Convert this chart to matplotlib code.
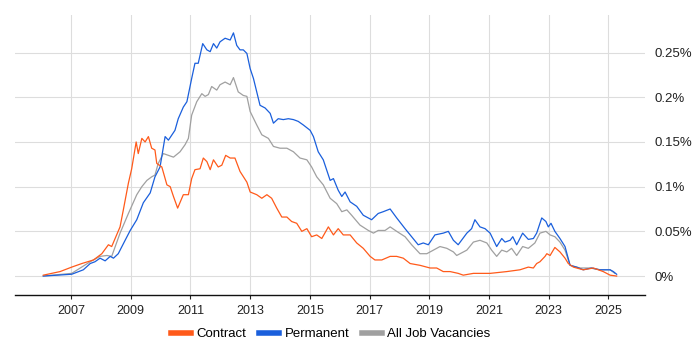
import matplotlib
matplotlib.use("Agg")
import matplotlib.pyplot as plt
from matplotlib.lines import Line2D

# share of UK job ads (%)
contract_years = [2006.07, 2006.63, 2007.02, 2007.36, 2007.75, 2008.03, 2008.25, 2008.36, 2008.64, 2008.75,
                  2008.92, 2009.03, 2009.18, 2009.25, 2009.37, 2009.48, 2009.59, 2009.70, 2009.81, 2009.87,
                  2010.04, 2010.21, 2010.32, 2010.43, 2010.57, 2010.76, 2010.93, 2011.04, 2011.15, 2011.32,
                  2011.43, 2011.55, 2011.66, 2011.77, 2011.93, 2012.05, 2012.18, 2012.33, 2012.49, 2012.66,
                  2012.89, 2013.00, 2013.22, 2013.39, 2013.56, 2013.72, 2013.89, 2014.06, 2014.23, 2014.39,
                  2014.56, 2014.73, 2014.90, 2015.06, 2015.23, 2015.40, 2015.62, 2015.79, 2015.95, 2016.12,
                  2016.35, 2016.57, 2016.79, 2017.02, 2017.18, 2017.41, 2017.69, 2017.91, 2018.13, 2018.36,
                  2018.69, 2019.03, 2019.25, 2019.47, 2019.70, 2019.97, 2020.14, 2020.48, 2021.04, 2021.60,
                  2022.04, 2022.32, 2022.49, 2022.60, 2022.71, 2022.88, 2022.94, 2023.05, 2023.21, 2023.38,
                  2023.55, 2023.66, 2023.83, 2024.16, 2024.50, 2024.83, 2025.06, 2025.28]
contract = [0.001, 0.005, 0.010, 0.014, 0.018, 0.025, 0.035, 0.033, 0.055, 0.074,
            0.104, 0.120, 0.150, 0.137, 0.154, 0.150, 0.156, 0.143, 0.141, 0.126,
            0.122, 0.102, 0.100, 0.089, 0.076, 0.091, 0.091, 0.109, 0.119, 0.120,
            0.132, 0.128, 0.119, 0.130, 0.122, 0.124, 0.135, 0.132, 0.132, 0.117,
            0.105, 0.094, 0.091, 0.087, 0.091, 0.087, 0.076, 0.066, 0.066, 0.061,
            0.059, 0.050, 0.053, 0.044, 0.046, 0.042, 0.055, 0.046, 0.053, 0.046,
            0.046, 0.037, 0.031, 0.022, 0.018, 0.018, 0.022, 0.022, 0.020, 0.014,
            0.012, 0.009, 0.009, 0.005, 0.005, 0.003, 0.001, 0.003, 0.003, 0.005,
            0.007, 0.010, 0.009, 0.014, 0.016, 0.022, 0.025, 0.023, 0.032, 0.027,
            0.020, 0.014, 0.010, 0.007, 0.009, 0.005, 0.001, 0.000]

perm_years = [2006.07, 2007.02, 2007.41, 2007.64, 2007.80, 2007.97, 2008.14, 2008.31, 2008.42, 2008.58,
              2008.81, 2008.98, 2009.20, 2009.42, 2009.65, 2009.81, 2009.98, 2010.15, 2010.26, 2010.48,
              2010.59, 2010.76, 2010.88, 2011.04, 2011.15, 2011.26, 2011.41, 2011.55, 2011.66, 2011.77,
              2011.88, 2011.99, 2012.16, 2012.33, 2012.44, 2012.55, 2012.66, 2012.77, 2012.89, 2013.00,
              2013.11, 2013.22, 2013.33, 2013.50, 2013.67, 2013.78, 2013.94, 2014.11, 2014.28, 2014.45,
              2014.61, 2014.78, 2015.01, 2015.12, 2015.28, 2015.45, 2015.68, 2015.79, 2015.95, 2016.07,
              2016.18, 2016.35, 2016.57, 2016.79, 2017.07, 2017.29, 2017.46, 2017.69, 2017.91, 2018.19,
              2018.41, 2018.63, 2018.80, 2018.97, 2019.19, 2019.47, 2019.64, 2019.81, 2019.97, 2020.26,
              2020.42, 2020.53, 2020.70, 2020.87, 2021.04, 2021.26, 2021.43, 2021.54, 2021.71, 2021.80,
              2021.93, 2022.13, 2022.32, 2022.49, 2022.60, 2022.77, 2022.91, 2022.99, 2023.08, 2023.21,
              2023.38, 2023.55, 2023.72, 2023.94, 2024.16, 2024.44, 2024.72, 2025.06, 2025.17, 2025.28]
permanent = [0.000, 0.002, 0.007, 0.014, 0.016, 0.020, 0.017, 0.022, 0.020, 0.025,
             0.040, 0.051, 0.063, 0.082, 0.093, 0.111, 0.122, 0.156, 0.152, 0.163,
             0.176, 0.189, 0.195, 0.221, 0.238, 0.238, 0.260, 0.253, 0.251, 0.260,
             0.255, 0.262, 0.266, 0.264, 0.272, 0.258, 0.253, 0.253, 0.249, 0.232,
             0.221, 0.206, 0.191, 0.188, 0.182, 0.171, 0.176, 0.175, 0.176, 0.175,
             0.173, 0.169, 0.163, 0.156, 0.139, 0.130, 0.107, 0.109, 0.096, 0.089,
             0.094, 0.083, 0.078, 0.068, 0.063, 0.070, 0.072, 0.075, 0.065, 0.053,
             0.044, 0.035, 0.037, 0.035, 0.046, 0.048, 0.050, 0.040, 0.035, 0.048,
             0.053, 0.063, 0.055, 0.053, 0.048, 0.033, 0.042, 0.038, 0.040, 0.044,
             0.035, 0.048, 0.041, 0.042, 0.048, 0.065, 0.061, 0.055, 0.059, 0.050,
             0.042, 0.033, 0.012, 0.010, 0.007, 0.009, 0.007, 0.007, 0.005, 0.002]

all_years = [2006.06, 2007.02, 2007.64, 2007.97, 2008.20, 2008.36, 2008.64, 2008.92, 2009.20, 2009.37,
             2009.54, 2009.70, 2009.81, 2009.92, 2010.09, 2010.26, 2010.43, 2010.65, 2010.82, 2010.93,
             2011.04, 2011.21, 2011.38, 2011.49, 2011.60, 2011.71, 2011.88, 2011.99, 2012.16, 2012.33,
             2012.44, 2012.60, 2012.77, 2012.89, 2013.00, 2013.22, 2013.39, 2013.61, 2013.78, 2014.00,
             2014.23, 2014.45, 2014.67, 2014.90, 2015.06, 2015.23, 2015.45, 2015.68, 2015.90, 2016.07,
             2016.24, 2016.40, 2016.68, 2016.96, 2017.13, 2017.29, 2017.52, 2017.69, 2017.91, 2018.19,
             2018.41, 2018.69, 2018.92, 2019.14, 2019.36, 2019.59, 2019.81, 2019.92, 2020.26, 2020.48,
             2020.70, 2020.93, 2021.09, 2021.26, 2021.43, 2021.60, 2021.76, 2021.93, 2022.13, 2022.32,
             2022.54, 2022.71, 2022.91, 2023.05, 2023.21, 2023.38, 2023.55, 2023.72, 2024.05, 2024.39,
             2024.72, 2025.06, 2025.22]
all_jobs = [0.000, 0.003, 0.016, 0.022, 0.023, 0.022, 0.048, 0.070, 0.091, 0.100,
            0.107, 0.111, 0.113, 0.126, 0.137, 0.135, 0.133, 0.139, 0.147, 0.154,
            0.180, 0.195, 0.204, 0.201, 0.203, 0.212, 0.208, 0.214, 0.217, 0.214,
            0.222, 0.206, 0.202, 0.201, 0.184, 0.169, 0.158, 0.154, 0.145, 0.143,
            0.143, 0.139, 0.132, 0.130, 0.122, 0.111, 0.102, 0.087, 0.081, 0.072,
            0.074, 0.068, 0.057, 0.051, 0.048, 0.051, 0.051, 0.055, 0.050, 0.044,
            0.035, 0.025, 0.025, 0.029, 0.033, 0.031, 0.027, 0.023, 0.029, 0.038,
            0.040, 0.037, 0.029, 0.022, 0.029, 0.027, 0.031, 0.023, 0.033, 0.031,
            0.037, 0.048, 0.050, 0.046, 0.044, 0.038, 0.029, 0.012, 0.009, 0.009,
            0.007, 0.007, 0.003]

year_ticks = [2007, 2009, 2011, 2013, 2015, 2017, 2019, 2021, 2023, 2025]
pct_ticks = [0, 0.05, 0.1, 0.15, 0.2, 0.25]
pct_labels = ['0%', '0.05%', '0.1%', '0.15%', '0.2%', '0.25%']

plt.rcParams['font.family'] = ['Liberation Sans', 'DejaVu Sans']

fig = plt.figure(figsize=(7, 3.5), dpi=100)
ax = fig.add_axes([15 / 700, 55 / 350, 630 / 700, 280 / 350])

c_orange = '#ff5a1a'
c_blue = '#1a5fdc'
c_grey = '#a0a0a0'

ax.plot(all_years, all_jobs, color=c_grey, lw=0.9)
ax.plot(perm_years, permanent, color=c_blue, lw=0.9)
ax.plot(contract_years, contract, color=c_orange, lw=0.9)

ax.set_xlim(2005.12, 2026.23)
ax.set_ylim(-0.0212, 0.292)
ax.set_xticks(year_ticks)
ax.set_xticklabels([str(y) for y in year_ticks], fontsize=9)
ax.set_yticks(pct_ticks)
ax.set_yticklabels(pct_labels, fontsize=9.5)
ax.yaxis.tick_right()
ax.tick_params(axis='y', length=0, pad=7, colors='#222222')
ax.tick_params(axis='x', length=3, width=0.8, pad=4, colors='#222222')
ax.grid(True, color='#dddddd', lw=0.8)
ax.set_axisbelow(True)
for side in ['top', 'right', 'left']:
    ax.spines[side].set_visible(False)
ax.spines['bottom'].set_color('#111111')
ax.spines['bottom'].set_linewidth(1.0)

handles = [Line2D([], [], color=c_orange, lw=4),
           Line2D([], [], color=c_blue, lw=4),
           Line2D([], [], color=c_grey, lw=4)]
fig.legend(handles, ['Contract', 'Permanent', 'All Job Vacancies'],
           loc='center', bbox_to_anchor=(331 / 700, 1 - 334 / 350), ncol=3,
           frameon=False, fontsize=9.5, handlelength=1.5, handletextpad=0.4,
           columnspacing=1.0)

fig.savefig('out.png', dpi=100)
